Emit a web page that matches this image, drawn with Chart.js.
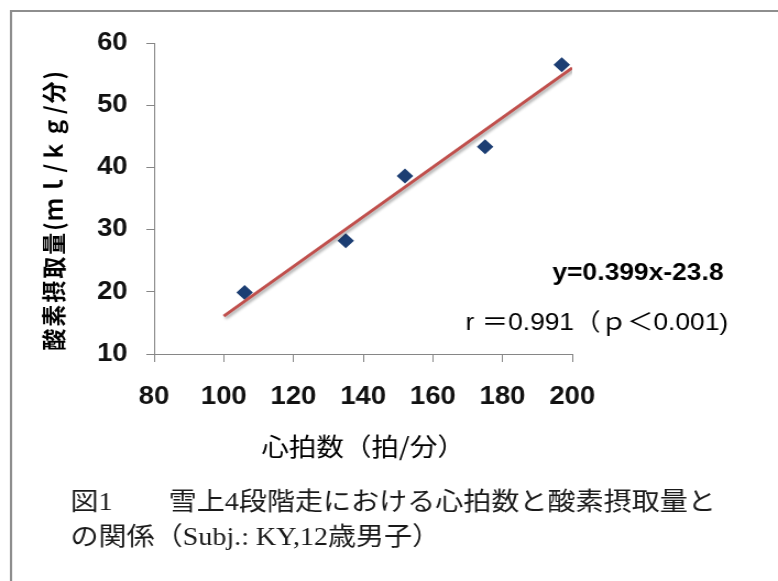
<!DOCTYPE html>
<html>
<head>
<meta charset="utf-8">
<script src="https://cdn.jsdelivr.net/npm/chart.js@4.4.0/dist/chart.umd.min.js"></script>
<style>
  html, body { margin: 0; padding: 0; background: #fff; }
</style>
</head>
<body>
<!-- drawn at 707px wide, shown at 778px: the original figure is stretched sideways -->
<canvas id="chart" width="707" height="581" style="width:778px;height:581px;display:block"></canvas>
<script>
// heart rate (beats/min) against oxygen uptake (ml/kg/min)
const heartRate = [106, 135, 152, 175, 197];
const oxygenUptake = [19.9, 28.2, 38.6, 43.3, 56.5];

// fitted line end points, as drawn in the figure
const trendX = [100, 200];
const trendY = [16.1, 56.0];

const xTicks = [80, 100, 120, 140, 160, 180, 200];
const yTicks = [10, 20, 30, 40, 50, 60];

const yTitle = '酸素摂取量(ｍｌ/ｋｇ/分)';
const xTitle = '心拍数（拍/分）';
const equation = 'y=0.399x-23.8';
const corr = 'r ＝0.991（ｐ＜0.001)';
const caption = [
  '図1　　雪上4段階走における心拍数と酸素摂取量と',
  'の関係（Subj.: KY,12歳男子）'
];

const axisGrey = '#868686';
const tickFont = { family: '"Liberation Sans", Arial, sans-serif', size: 25, weight: 'bold' };

const extras = {
  id: 'extras',
  beforeDraw(chart) {
    const ctx = chart.ctx;
    ctx.save();
    ctx.strokeStyle = '#8e8e8e';
    ctx.lineWidth = 2;
    ctx.beginPath();
    ctx.moveTo(10, chart.height);
    ctx.lineTo(10, 11);
    ctx.lineTo(chart.width, 11);
    ctx.stroke();
    ctx.restore();
  },
  beforeDatasetDraw(chart, args) {
    if (args.index !== 0) return;
    const ctx = chart.ctx;
    ctx.save();
    ctx.shadowColor = 'rgba(0,0,0,0.35)';
    ctx.shadowBlur = 3;
    ctx.shadowOffsetX = 1.5;
    ctx.shadowOffsetY = 2;
  },
  afterDatasetDraw(chart, args) {
    if (args.index === 0) chart.ctx.restore();
  },
  afterDraw(chart) {
    const ctx = chart.ctx;
    ctx.save();
    ctx.fillStyle = '#000';
    ctx.textBaseline = 'middle';

    // y axis title, rotated
    ctx.save();
    ctx.translate(49, 210);
    ctx.rotate(-Math.PI / 2);
    ctx.textAlign = 'center';
    ctx.font = 'bold 22px "Noto Sans CJK JP", sans-serif';
    if ('letterSpacing' in ctx) ctx.letterSpacing = '2px';
    ctx.fillText(yTitle, 0, 0);
    ctx.restore();

    ctx.textAlign = 'left';
    ctx.font = 'bold 24px "Liberation Sans", Arial, sans-serif';
    ctx.fillText(equation, 502, 273);
    ctx.font = '24px "Liberation Sans", "Noto Sans CJK JP", sans-serif';
    ctx.fillText(corr, 423, 323);

    ctx.fillStyle = '#1a1a1a';
    ctx.font = '25.5px "Liberation Serif", "Noto Sans CJK JP", serif';
    ctx.fillText(caption[0], 64, 503);
    ctx.fillText(caption[1], 64, 538);
    ctx.restore();
  }
};

new Chart(document.getElementById('chart'), {
  type: 'scatter',
  data: {
    datasets: [
      {
        label: 'trend',
        data: trendX.map((x, i) => ({ x, y: trendY[i] })),
        showLine: true,
        borderColor: '#c0504d',
        borderWidth: 3,
        pointRadius: 0,
        order: 0
      },
      {
        label: 'VO2',
        data: heartRate.map((x, i) => ({ x, y: oxygenUptake[i] })),
        pointStyle: 'rectRot',
        pointRadius: 7.5,
        backgroundColor: '#1c3e73',
        borderColor: '#1c3e73',
        borderWidth: 0,
        order: 1
      }
    ]
  },
  options: {
    responsive: false,
    animation: false,
    devicePixelRatio: 1,
    events: [],
    layout: { padding: { left: 0, top: 43, right: 187, bottom: 120 } },
    plugins: { legend: { display: false }, tooltip: { enabled: false } },
    scales: {
      x: {
        type: 'linear',
        min: xTicks[0],
        max: xTicks[xTicks.length - 1],
        afterBuildTicks: s => { s.ticks = xTicks.map(v => ({ value: v })); },
        afterFit: s => { s.height = 107; },
        grid: { drawOnChartArea: false, color: axisGrey, tickLength: 8 },
        border: { color: axisGrey, width: 1 },
        ticks: { font: tickFont, color: '#111', padding: 20, maxRotation: 0 },
        title: {
          display: true,
          text: xTitle,
          color: '#000',
          font: { family: '"Noto Sans CJK JP", sans-serif', size: 25 },
          padding: { top: 0, bottom: 0 }
        }
      },
      y: {
        min: yTicks[0],
        max: yTicks[yTicks.length - 1],
        afterBuildTicks: s => { s.ticks = yTicks.map(v => ({ value: v })); },
        afterFit: s => { s.width = 140; },
        grid: { drawOnChartArea: false, color: axisGrey, tickLength: 7 },
        border: { color: axisGrey, width: 1 },
        ticks: { font: tickFont, color: '#111', padding: 17 }
      }
    }
  },
  plugins: [extras]
});
</script>
</body>
</html>
